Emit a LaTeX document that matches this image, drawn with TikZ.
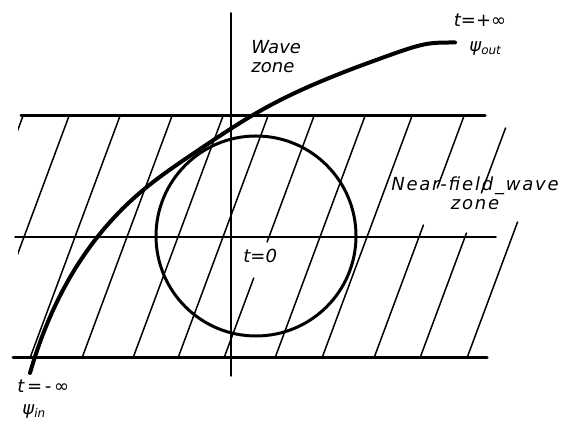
\documentclass[tikz,border=0pt]{standalone}
\usepackage{fontspec}
\newfontfamily\handfont{DejaVu Sans}
\usetikzlibrary{positioning}
\tikzset{
  every picture/.style={line join=round, line cap=round},
  thinline/.style={line width=0.75pt},
  bandline/.style={line width=1.5pt},
  orbit/.style={line width=2pt},
  lettering/.style={font=\handfont\itshape\fontsize{9}{9.5}\selectfont, inner sep=0pt},
}

\begin{document}
\begin{tikzpicture}[x=0.5pt,y=0.5pt]
\useasboundingbox (0,0) rectangle (571,426);
% axes
\draw[thinline] (231,50) -- (231,413);
\draw[thinline] (15,189) -- (496,189);
% the band
\draw[bandline] (21,310) -- (485,310);
\draw[bandline] (13,68) -- (487,68);
% hatching, top end at y=310, slope dx/dy = 0.372
\begin{scope}
\clip (18,0) rectangle (571,426);
\foreach \t/\a/\b in {23/310/68, 69/310/68, 120/310/68, 172/310/68, 223/310/68, 268/310/68,
    314/310/184, 314/148/68, 365/310/68, 412/310/68, 464/310/238, 464/201/68,
    510/298/233, 510/193/68, 557/204/68}
  \draw[thinline] ({\t-0.372*(310-\a)},\a) -- ({\t-0.372*(310-\b)},\b);
\end{scope}
% near field
\draw[bandline] (256,190) circle[radius=100];
% trajectory, log-like, touching the circle near x=195
\draw[orbit] plot[domain=30:360,samples=90] (\x,{-456+138*ln(\x+10)-5*exp(-((\x-195)/60)^2)})
  .. controls (424,383.5) .. (455,383.5);
% labels
\node[lettering,anchor=north west,align=left] (wavelbl) at (251,386) {Wave\\zone};
\node[lettering,anchor=base west] (psiout) at (469,374) {ψ\textsubscript{out}};
\node[lettering,anchor=base] (tplus) at (480,399) {t=+∞};
\node[lettering,anchor=base west] (tminus) at (17,33) {\addfontfeature{LetterSpace=15}t=-∞};
\node[lettering,anchor=base west] (psiin) at (22,11) {ψ\textsubscript{in}};
\node[lettering,align=center,anchor=base] (nearlbl) at (475,216)
  {\addfontfeature{LetterSpace=10}Near-field\_wave\\\addfontfeature{LetterSpace=10}zone};
\node[lettering,anchor=base west] (tzero) at (243,163) {t=0};
\end{tikzpicture}
\end{document}
